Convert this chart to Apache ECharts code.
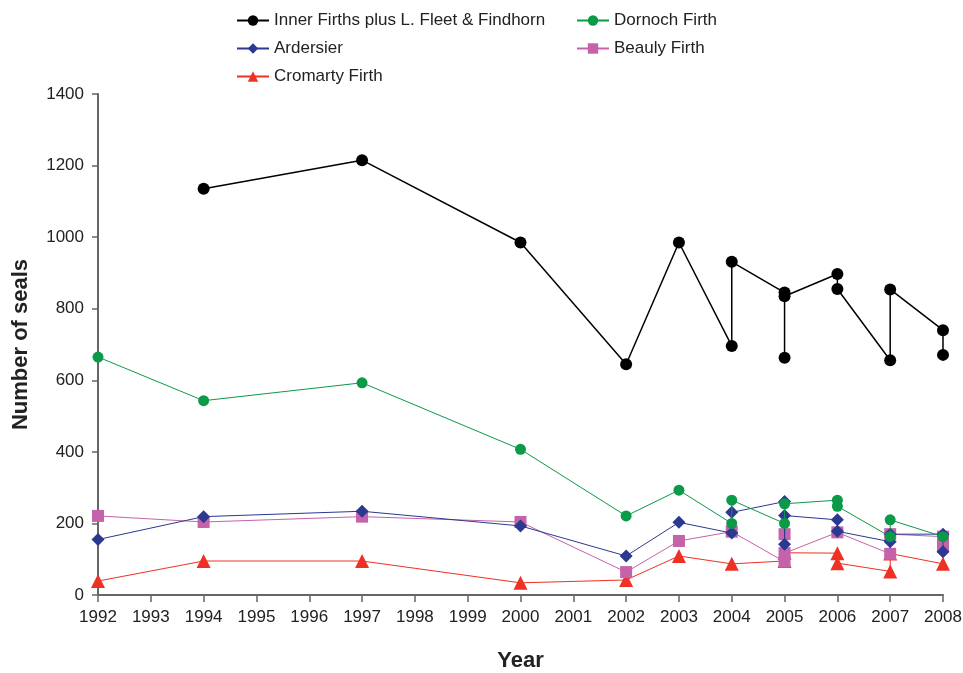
<!DOCTYPE html>
<html>
<head>
<meta charset="utf-8">
<script src="https://cdn.jsdelivr.net/npm/echarts@6/dist/echarts.min.js"></script>
<style>
html,body{margin:0;padding:0;background:#fff;}
#chart{width:963px;height:673px;}
</style>
</head>
<body>
<div id="chart"></div>
<script>
// ---- Data ----
const seriesNames = ["Inner Firths plus L. Fleet & Findhorn", "Dornoch Firth", "Ardersier", "Beauly Firth", "Cromarty Firth"];
const yearTicks = [1992,1993,1994,1995,1996,1997,1998,1999,2000,2001,2002,2003,2004,2005,2006,2007,2008];
const valueTicks = [0,200,400,600,800,1000,1200,1400];

const innerYears  = [1994,1997,2000,2002,2003,2004,2004,2005,2005,2005,2006,2006,2007,2007,2008,2008];
const innerValues = [1135,1215,985,645,985,696,931,845,663,835,897,855,656,854,740,671];

const dornochYears  = [1992,1994,1997,2000,2002,2003,2004,2004,2005,2005,2006,2006,2007,2007,2008];
const dornochValues = [665,543,593,407,221,293,200,265,200,255,265,248,163,210,163];

const ardersierYears  = [1992,1994,1997,2000,2002,2003,2004,2004,2005,2005,2005,2006,2006,2007,2007,2008,2008];
const ardersierValues = [155,219,234,193,109,203,173,231,261,142,222,210,178,149,170,170,121];

const beaulyYears  = [1992,1994,1997,2000,2002,2003,2004,2005,2005,2005,2006,2007,2007,2008,2008];
const beaulyValues = [221,204,219,204,64,151,177,93,170,117,175,115,170,163,135];

const cromartyYears  = [1992,1994,1997,2000,2002,2003,2004,2005,2005,2006,2006,2007,2007,2008];
const cromartyValues = [39,95,95,34,42,109,87,95,118,117,89,66,116,87];

// ---- Build ----
function pairs(xs, ys){ return xs.map((x,i)=>[x, ys[i]]); }
const colors = ["#000000", "#0b9a48", "#2b3990", "#c462aa", "#ee3124"];
const symbols = ["circle", "circle", "diamond", "rect", "triangle"];
const sizes = [12, 11, 13, 12, 14];
const widths = [1.5, 1, 1, 1, 1];
const dataSets = [
  pairs(innerYears, innerValues),
  pairs(dornochYears, dornochValues),
  pairs(ardersierYears, ardersierValues),
  pairs(beaulyYears, beaulyValues),
  pairs(cromartyYears, cromartyValues)
];

const legendPos = [
  {left: 236, top: 12},
  {left: 576, top: 12},
  {left: 236, top: 40},
  {left: 576, top: 40},
  {left: 236, top: 68}
];

const chart = echarts.init(document.getElementById('chart'));
const font = "Liberation Sans, Arial, sans-serif";

chart.setOption({
  animation: false,
  backgroundColor: '#fff',
  legend: seriesNames.map((n,i)=>({
    data: [n],
    left: legendPos[i].left,
    top: legendPos[i].top,
    padding: 0,
    itemWidth: 32,
    itemHeight: 13,
    itemGap: 4,
    textStyle: {fontFamily: font, fontSize: 17, color: '#222'}
  })),
  grid: {left: 98, right: 20, top: 94, bottom: 78, outerBoundsMode: 'none', containLabel: false},
  xAxis: {
    type: 'value',
    min: 1992, max: 2008, interval: 1,
    name: 'Year',
    nameLocation: 'middle',
    nameGap: 55,
    nameTextStyle: {fontFamily: font, fontSize: 22, fontWeight: 'bold', color: '#222'},
    axisLine: {show: true, lineStyle: {color: '#666', width: 2}},
    axisTick: {show: true, inside: false, length: 7, lineStyle: {color: '#666', width: 1.5}},
    axisLabel: {fontFamily: font, fontSize: 17, color: '#222', margin: 14, formatter: v => yearTicks.includes(v) ? String(v) : ''},
    splitLine: {show: false}
  },
  yAxis: {
    type: 'value',
    min: 0, max: 1400, interval: 200,
    name: 'Number of seals',
    nameLocation: 'middle',
    nameGap: 66,
    nameTextStyle: {fontFamily: font, fontSize: 22, fontWeight: 'bold', color: '#222'},
    axisLine: {show: true, lineStyle: {color: '#666', width: 2}},
    axisTick: {show: true, inside: false, length: 6, lineStyle: {color: '#666', width: 1.5}},
    axisLabel: {fontFamily: font, fontSize: 17, color: '#222', margin: 14, formatter: v => valueTicks.includes(v) ? String(v) : ''},
    splitLine: {show: false}
  },
  series: seriesNames.map((n,i)=>({
    name: n,
    type: 'line',
    data: dataSets[i],
    symbol: symbols[i],
    symbolSize: sizes[i],
    showAllSymbol: true,
    itemStyle: {color: colors[i]},
    lineStyle: {color: colors[i], width: widths[i]},
    z: 10 - i
  }))
});
</script>
</body>
</html>
